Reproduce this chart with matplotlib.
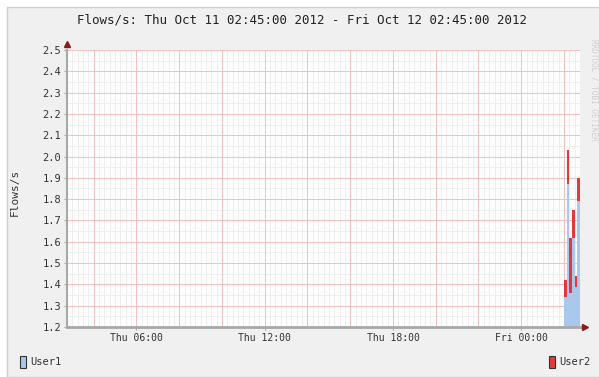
import numpy as np
import pandas as pd
import matplotlib as mpl
mpl.use('Agg')
import matplotlib.pyplot as plt
import matplotlib.dates as mdates
from matplotlib.patches import Rectangle

# Flow rates (flows/s), one bucket per consolidated sample
sample_starts = ["2012-10-12 02:00:00", "2012-10-12 02:07:30", "2012-10-12 02:15:00",
                 "2012-10-12 02:22:30", "2012-10-12 02:30:00", "2012-10-12 02:37:30"]
sample_end = "2012-10-12 02:45:00"
user1 = [1.34, 1.87, 1.36, 1.62, 1.39, 1.79]
user2 = [0.08, 0.16, 0.26, 0.13, 0.05, 0.11]

range_start = "2012-10-11 02:45:00"
range_end = "2012-10-12 02:45:00"
title = "Flows/s: Thu Oct 11 02:45:00 2012 - Fri Oct 12 02:45:00 2012"
y_ticks = [1.2, 1.3, 1.4, 1.5, 1.6, 1.7, 1.8, 1.9, 2.0, 2.1, 2.2, 2.3, 2.4, 2.5]
x_labels = ["2012-10-11 06:00", "2012-10-11 12:00", "2012-10-11 18:00", "2012-10-12 00:00"]

mpl.rcParams['font.family'] = ['DejaVu Sans Mono']

W, H = 599, 377
fig = plt.figure(figsize=(W / 100, H / 100), dpi=100, facecolor='white')

# rrdtool-style canvas frame
fig.patches.append(Rectangle((7 / W, 0), 1, (H - 7) / H, transform=fig.transFigure,
                             facecolor='#f0f0f0', edgecolor='#cfcfcf', lw=1.0, zorder=-10))

ax = fig.add_axes([67 / W, (H - 327) / H, (580 - 67) / W, (327 - 50) / H])
ax.set_facecolor('#fdfdfd')

t0 = mdates.date2num(pd.Timestamp(range_start))
t1 = mdates.date2num(pd.Timestamp(range_end))
edges = mdates.date2num(pd.to_datetime(sample_starts + [sample_end]))
u1 = np.array(user1)
u2 = np.array(user2)

ax.stairs(u1, edges, baseline=0, fill=True, color='#a9c8ec', zorder=3)
ax.stairs(u1 + u2, edges, baseline=u1, fill=True, color='#e23a3a', zorder=3)

ax.set_xlim(t0, t1)
ax.set_ylim(1.2, 2.5)

# grid: minor every 15 min / 0.05, major every 2 h / 0.1
minor_x = pd.date_range("2012-10-11 03:00", range_end, freq="15min")
major_x = pd.date_range("2012-10-11 04:00", range_end, freq="2h")
for t in mdates.date2num(minor_x):
    ax.axvline(t, color='#ececec', lw=0.6, zorder=1)
for y in np.arange(1.25, 2.5, 0.1):
    ax.axhline(y, color='#ececec', lw=0.6, zorder=1)
for t in mdates.date2num(major_x):
    ax.axvline(t, color='#f3c0c0', lw=0.7, zorder=2)
for y in y_ticks[1:]:
    ax.axhline(y, color='#f3c0c0', lw=0.7, zorder=2)

for s in ax.spines.values():
    s.set_visible(False)
ax.axhline(1.2, color='#a8a8a8', lw=2.0, zorder=4, clip_on=False)
ax.axvline(t0, color='#a8a8a8', lw=1.5, zorder=4, clip_on=False)
ax.plot([t1 + (t1 - t0) * 0.009], [1.2], marker='>', color='#8b1a1a', ms=4.5,
        clip_on=False, zorder=5)
ax.plot([t0], [2.5 + 1.3 * 0.022], marker='^', color='#8b1a1a', ms=4.5,
        clip_on=False, zorder=5)

ax.set_yticks(y_ticks)
ax.set_yticklabels(["%.1f" % v for v in y_ticks], fontsize=7.5, color='#333333')
ax.set_xticks(mdates.date2num(pd.to_datetime(x_labels)))
ax.set_xticklabels([pd.Timestamp(x).strftime("%a %H:%M") for x in x_labels],
                   fontsize=7, color='#333333')
ax.tick_params(axis='both', length=2, width=0.8, color='#a8a8a8', pad=2)

fig.text(302 / W, 1 - 20 / H, title, ha='center', va='center', fontsize=9,
         color='#222222')
fig.text(15 / W, 1 - 192 / H, "Flows/s", rotation=90, ha='center', va='center',
         fontsize=8, color='#333333')
fig.text(594 / W, 1 - 90 / H, "RRDTOOL / TOBI OETIKER", rotation=270, ha='center',
         va='center', fontsize=5.5, color='#d0d0d0')

# legend swatches
fig.patches.append(Rectangle((20 / W, (H - 368) / H), 6 / W, 12 / H, transform=fig.transFigure,
                             facecolor='#a9c8ec', edgecolor='#333333', lw=0.8))
fig.text(30 / W, 1 - 362 / H, "User1", ha='left', va='center', fontsize=7.5, color='#333333')
fig.patches.append(Rectangle((549 / W, (H - 368) / H), 6 / W, 12 / H, transform=fig.transFigure,
                             facecolor='#e23a3a', edgecolor='#333333', lw=0.8))
fig.text(559 / W, 1 - 362 / H, "User2", ha='left', va='center', fontsize=7.5, color='#333333')

fig.savefig("out.png", dpi=100, facecolor=fig.get_facecolor())
